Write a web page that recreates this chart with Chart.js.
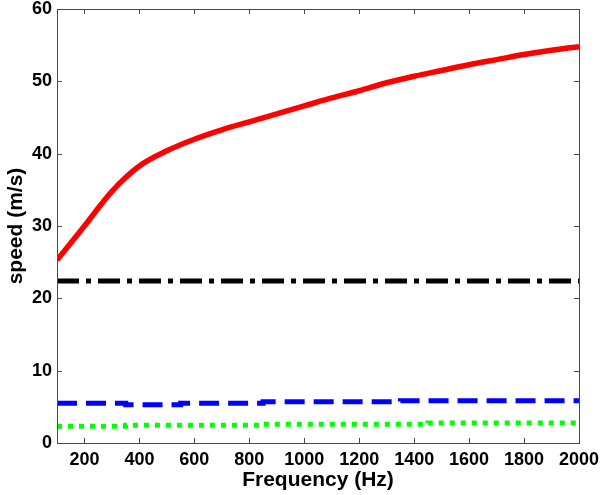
<!DOCTYPE html>
<html>
<head>
<meta charset="utf-8">
<script src="https://cdn.jsdelivr.net/npm/chart.js@4"></script>
<style>
  body { margin: 0; background: #fff; }
  #wrap { width: 600px; height: 495px; }
</style>
</head>
<body>
<div id="wrap"><canvas id="speedChart"></canvas></div>
<script>
// --- data ---
const frequencies = [100, 200, 300, 400, 500, 600, 700, 800, 900, 1000,
                     1100, 1200, 1300, 1400, 1500, 1600, 1700, 1800, 1900, 2000];
const redSpeed   = [25.3, 30.0, 34.8, 38.3, 40.4, 42.0, 43.3, 44.4, 45.5, 46.6,
                    47.7, 48.7, 49.8, 50.7, 51.5, 52.3, 53.0, 53.7, 54.3, 54.8];
const blackSpeed = [22.4, 22.4, 22.4, 22.4, 22.4, 22.4, 22.4, 22.4, 22.4, 22.4,
                    22.4, 22.4, 22.4, 22.4, 22.4, 22.4, 22.4, 22.4, 22.4, 22.4];
const blueSpeed  = [5.5, 5.5, 5.5, 5.3, 5.3, 5.5, 5.5, 5.5, 5.7, 5.7,
                    5.7, 5.7, 5.7, 5.85, 5.85, 5.85, 5.85, 5.85, 5.85, 5.85];
const greenSpeed = [2.3, 2.3, 2.3, 2.45, 2.45, 2.45, 2.45, 2.45, 2.6, 2.6,
                    2.6, 2.6, 2.6, 2.6, 2.75, 2.75, 2.75, 2.75, 2.75, 2.75];
const xTicks = [200, 400, 600, 800, 1000, 1200, 1400, 1600, 1800, 2000];
const yTicks = [0, 10, 20, 30, 40, 50, 60];

const pts = arr => frequencies.map((f, i) => ({ x: f, y: arr[i] }));

// inward ticks + full box, MATLAB style
const boxTicks = {
    id: 'boxTicks',
    afterDraw(chart) {
        const { ctx, chartArea: a, scales: { x, y } } = chart;
        ctx.save();
        ctx.strokeStyle = '#4a4a4a';
        ctx.lineWidth = 1;
        ctx.strokeRect(a.left + 0.5, a.top + 0.5, a.right - a.left, a.bottom - a.top);
        ctx.beginPath();
        xTicks.forEach(v => {
            const px = Math.round(x.getPixelForValue(v)) + 0.5;
            ctx.moveTo(px, a.bottom); ctx.lineTo(px, a.bottom - 5);
            ctx.moveTo(px, a.top); ctx.lineTo(px, a.top + 5);
        });
        yTicks.forEach(v => {
            const py = Math.round(y.getPixelForValue(v)) + 0.5;
            ctx.moveTo(a.left, py); ctx.lineTo(a.left + 5, py);
            ctx.moveTo(a.right, py); ctx.lineTo(a.right - 5, py);
        });
        ctx.stroke();
        ctx.restore();
    }
};

const font = { family: "'Liberation Sans', Arial, sans-serif", weight: 'bold', size: 18 };
const titleFont = { ...font, size: 21 };

new Chart(document.getElementById('speedChart'), {
    type: 'line',
    data: {
        datasets: [
            { data: pts(redSpeed), borderColor: '#ff0000', borderWidth: 5.5, tension: 0.4,
              cubicInterpolationMode: 'monotone' },
            { data: pts(blackSpeed), borderColor: '#000000', borderWidth: 5,
              borderDash: [22, 7, 5, 7] },
            { data: pts(blueSpeed), borderColor: '#0000ff', borderWidth: 5,
              borderDash: [20, 9], stepped: 'middle' },
            { data: pts(greenSpeed), borderColor: '#00ff00', borderWidth: 5,
              borderDash: [5, 6], stepped: 'middle' }
        ]
    },
    options: {
        responsive: true,
        maintainAspectRatio: false,
        animation: false,
        layout: { padding: { top: 9, right: 21, left: 0, bottom: 0 } },
        elements: { point: { radius: 0 } },
        plugins: { legend: { display: false }, tooltip: { enabled: false } },
        scales: {
            x: {
                type: 'linear', min: 100, max: 2000,
                afterBuildTicks: s => { s.ticks = xTicks.map(v => ({ value: v })); },
                afterFit: s => { s.height = 52; s.paddingLeft = 0; s.paddingRight = 0; },
                grid: { display: false, drawTicks: false },
                border: { display: false },
                ticks: { color: '#000', font, padding: 6, maxRotation: 0, callback: v => String(v) },
                title: { display: true, text: 'Frequency (Hz)', color: '#000',
                         font: titleFont, padding: { top: 0, bottom: 2 } }
            },
            y: {
                type: 'linear', min: 0, max: 60,
                afterBuildTicks: s => { s.ticks = yTicks.map(v => ({ value: v })); },
                afterFit: s => { s.width = 57; s.paddingTop = 0; s.paddingBottom = 0; },
                grid: { display: false, drawTicks: false },
                border: { display: false },
                ticks: { color: '#000', font, padding: 5, callback: v => String(v) },
                title: { display: true, text: 'speed (m/s)', color: '#000',
                         font: titleFont, padding: { top: 4, bottom: 0 } }
            }
        }
    },
    plugins: [boxTicks]
});
</script>
</body>
</html>
